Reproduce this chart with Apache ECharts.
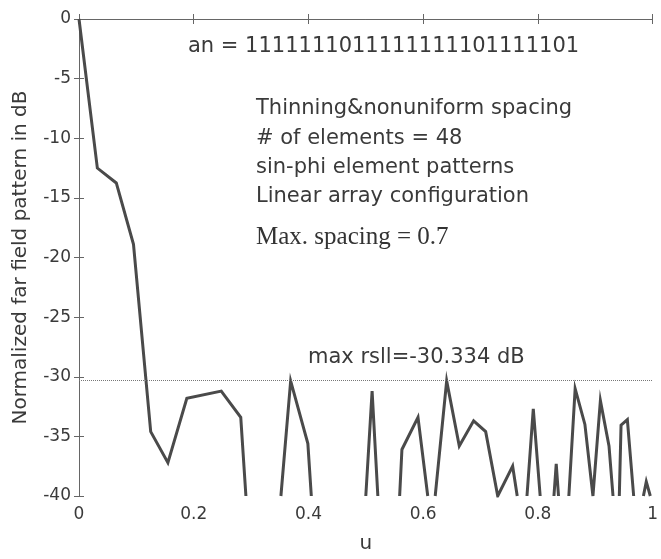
<!DOCTYPE html>
<html>
<head>
<meta charset="utf-8">
<script src="https://cdn.jsdelivr.net/npm/echarts@6/dist/echarts.min.js"></script>
<style>
  html, body { margin: 0; padding: 0; background: #fff; }
  #main { width: 661px; height: 559px; }
</style>
</head>
<body>
<div id="main"></div>
<script>
// values; null breaks the line where it dips below -40 dB
var uData = [0, 0.032, 0.065, 0.095, 0.125, 0.155, 0.188, 0.248, 0.282, 0.291,
  0.32, 0.352, 0.369, 0.399, 0.405,
  0.45, 0.500, 0.511, 0.521,
  0.54, 0.559, 0.563, 0.591, 0.608,
  0.615, 0.621, 0.641, 0.663, 0.688, 0.709, 0.730, 0.756, 0.764,
  0.772, 0.781, 0.792, 0.804,
  0.816, 0.828, 0.832, 0.836,
  0.845, 0.854, 0.865, 0.882, 0.896, 0.909, 0.924, 0.931,
  0.936, 0.942, 0.945, 0.956, 0.967,
  0.976, 0.984, 0.989, 0.996];
var dbData = [0, -12.5, -13.75, -18.9, -34.6, -37.2, -31.8, -31.2, -33.4, -40,
  null, -40, -30.35, -35.6, -40,
  null, -40, -31.2, -40,
  null, -40, -36.1, -33.4, -40,
  null, -40, -30.35, -35.8, -33.7, -34.6, -40, -37.5, -40,
  null, -40, -32.7, -40,
  null, -40, -37.3, -40,
  null, -40, -31.0, -34.0, -40, -32.0, -35.8, -40,
  null, -40, -34.06, -33.6, -40,
  null, -40, -38.8, -40];
var maxRsll = -30.334;
var xTicks = [0, 0.2, 0.4, 0.6, 0.8, 1];
var yTicks = [-40, -35, -30, -25, -20, -15, -10, -5, 0];

var infoLines = ['Thinning&nonuniform spacing', '# of elements = 48',
  'sin-phi element patterns', 'Linear array configuration'];

var points = [];
for (var i = 0; i < uData.length; i++) {
  points.push([uData[i], dbData[i]]);
}

var sans = 'DejaVu Sans';
var txt = '#3a3a3a';
var axisCol = '#666';

var chart = echarts.init(document.getElementById('main'));

var graphics = [
  { type: 'text', left: 188, top: 36,
    style: { text: 'an = 1111111011111111101111101', font: '21px "DejaVu Sans"', fill: txt } }
];
var lineY = [98, 128, 157, 186];
for (var k = 0; k < infoLines.length; k++) {
  graphics.push({ type: 'text', left: 256, top: lineY[k],
    style: { text: infoLines[k], font: '21px "DejaVu Sans"', fill: txt } });
}
graphics.push({ type: 'text', left: 256, top: 225,
  style: { text: 'Max. spacing = 0.7', font: '25px "Liberation Serif"', fill: '#333' } });
graphics.push({ type: 'text', left: 308, top: 347,
  style: { text: 'max rsll=' + maxRsll + ' dB', font: '21px "DejaVu Sans"', fill: txt } });

chart.setOption({
  animation: false,
  grid: { left: 79, right: 1, top: 19, bottom: 62 },
  xAxis: [
    {
      type: 'value', min: xTicks[0], max: xTicks[xTicks.length - 1], interval: 0.2,
      name: 'u', nameLocation: 'middle', nameGap: 38,
      nameTextStyle: { fontFamily: sans, fontSize: 20, color: txt },
      axisLine: { lineStyle: { color: axisCol, width: 1 } },
      axisTick: { inside: true, length: 5, lineStyle: { color: axisCol } },
      axisLabel: { fontFamily: sans, fontSize: 17, color: txt, margin: 10,
        formatter: function (v) { return String(+v.toFixed(1)); } },
      splitLine: { show: false }
    },
    {
      type: 'value', position: 'top', min: xTicks[0], max: xTicks[xTicks.length - 1], interval: 0.2,
      axisLine: { show: true, lineStyle: { color: axisCol, width: 1 } },
      axisTick: { inside: true, length: 5, lineStyle: { color: axisCol } },
      axisLabel: { show: false },
      splitLine: { show: false }
    }
  ],
  yAxis: [
    {
      type: 'value', min: yTicks[0], max: yTicks[yTicks.length - 1], interval: 5,
      name: 'Normalized far field pattern in dB', nameLocation: 'middle', nameGap: 48,
      nameTextStyle: { fontFamily: sans, fontSize: 20, color: txt },
      axisLine: { show: true, lineStyle: { color: axisCol, width: 1 } },
      axisTick: { show: true, inside: true, length: 5, lineStyle: { color: axisCol } },
      axisLabel: { fontFamily: sans, fontSize: 17, color: txt, margin: 8 },
      splitLine: { show: false }
    },
    {
      type: 'value', position: 'right', min: yTicks[0], max: yTicks[yTicks.length - 1], interval: 5,
      axisLine: { show: true, lineStyle: { color: axisCol, width: 1 } },
      axisTick: { show: true, inside: true, length: 5, lineStyle: { color: axisCol } },
      axisLabel: { show: false },
      splitLine: { show: false }
    }
  ],
  graphic: graphics,
  series: [
    {
      type: 'line',
      data: points,
      showSymbol: false,
      connectNulls: false,
      clip: true,
      lineStyle: { color: '#4a4a4a', width: 3, join: 'miter' },
      markLine: {
        silent: true,
        symbol: 'none',
        label: { show: false },
        lineStyle: { color: '#777', type: 'dotted', width: 1 },
        data: [{ yAxis: maxRsll }]
      }
    }
  ]
});
</script>
</body>
</html>
